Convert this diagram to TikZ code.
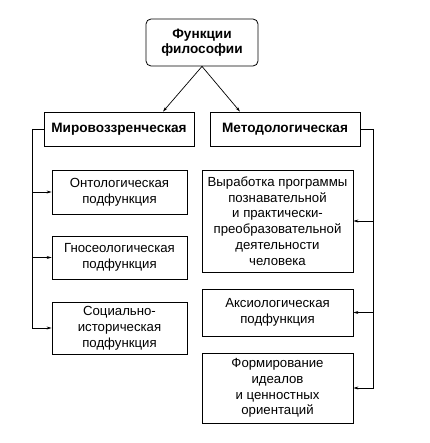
\documentclass[tikz,border=0pt]{standalone}
\usepackage{fontspec}
\setmainfont{Liberation Sans}
\usetikzlibrary{arrows.meta, positioning}

\begin{document}
\begin{tikzpicture}[
        x=1pt, y=-1pt,
        box/.style={rectangle, draw, line width=0.8pt, inner sep=2pt, align=center,
            font=\fontsize{13.2}{15.8}\selectfont},
        head/.style={box, font=\fontsize{13.6}{15.5}\selectfont\bfseries},
        arrow/.style={-{Stealth[length=5pt, width=3pt]}, line width=0.7pt},
        line/.style={line width=0.8pt}
    ]
        \useasboundingbox (0,0) rectangle (429,443);

        % Top
        \node[head, rounded corners=5pt, minimum width=112pt, minimum height=47pt] (func) at (202,42.5) {Функции\\философии};
        \node[head, minimum width=150pt, minimum height=34pt] (mir) at (119,129) {Мировоззренческая};
        \node[head, minimum width=150pt, minimum height=34pt] (met) at (285,129) {Методологическая};

        % Left column
        \node[box, minimum width=135pt, minimum height=44pt] (onto) at (119.5,192) {Онтологическая\\подфункция};
        \node[box, minimum width=135pt, minimum height=43pt] (gnoseo) at (119.5,257.5) {Гносеологическая\\подфункция};
        \node[box, minimum width=135pt, minimum height=52pt] (social) at (119.5,328) {Социально-\\историческая\\подфункция};

        % Right column
        \node[box, minimum width=151pt, minimum height=102pt] (prog) at (277.5,221) {Выработка программы\\познавательной\\и практически-\\преобразовательной\\деятельности\\человека};
        \node[box, minimum width=151pt, minimum height=47pt] (axio) at (277.5,312.5) {Аксиологическая\\подфункция};
        \node[box, minimum width=151pt, minimum height=70pt] (ideal) at (277.5,388) {Формирование\\идеалов\\и ценностных\\ориентаций};

        % Arrows
        \draw[arrow] (func.south) -- (mir.north -| 163,0);
        \draw[arrow] (func.south) -- (met.north -| 240,0);

        \coordinate (lbus) at (32,129);
        \coordinate (rbus) at (373,129);
        \draw[line] (mir.west) -- (lbus);
        \draw[arrow] (lbus) |- (social.west);
        \draw[arrow] (lbus |- onto.west) -- (onto.west);
        \draw[arrow] (lbus |- gnoseo.west) -- (gnoseo.west);

        \draw[line] (met.east) -- (rbus);
        \draw[arrow] (rbus) |- (ideal.east);
        \draw[arrow] (rbus |- prog.east) -- (prog.east);
        \draw[arrow] (rbus |- axio.east) -- (axio.east);
    \end{tikzpicture}
\end{document}
